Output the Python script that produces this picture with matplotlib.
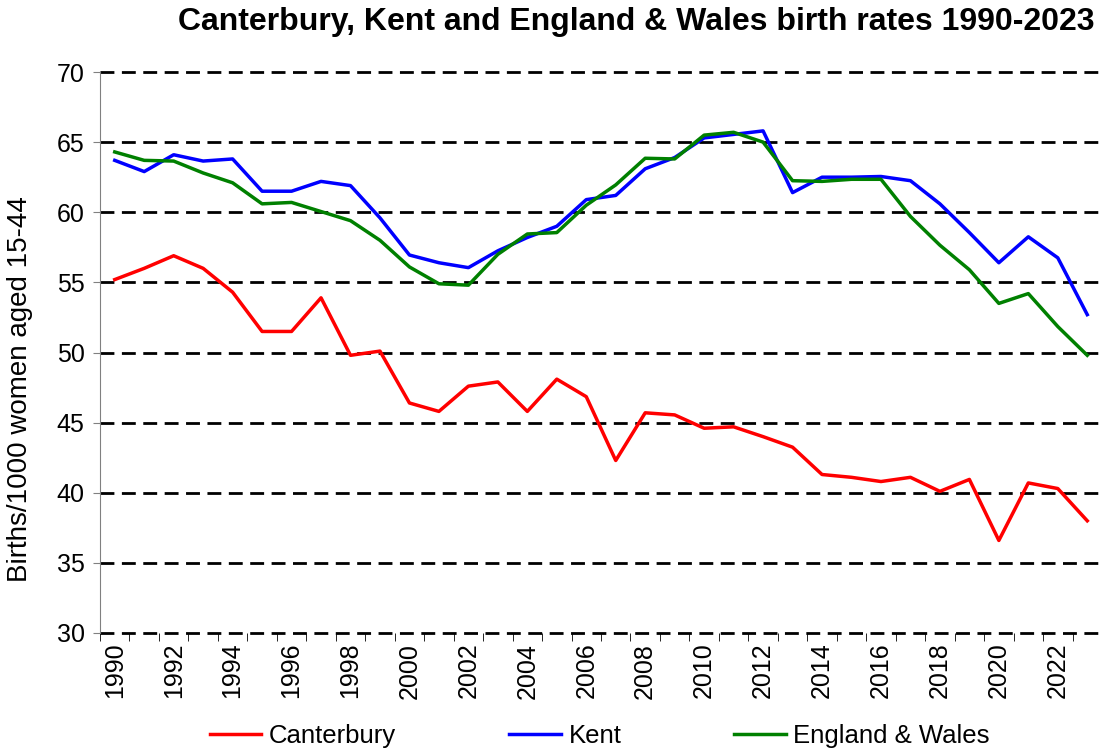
import matplotlib.pyplot as plt
import matplotlib
import numpy as np

matplotlib.rcParams['font.family'] = ['Liberation Sans', 'DejaVu Sans']

years = list(range(1990, 2024))
canterbury = [55.2, 56.0, 56.9, 56.0, 54.3, 51.5, 51.5, 53.9, 49.8, 50.1,
              46.4, 45.8, 47.6, 47.9, 45.8, 48.1, 46.85, 42.3, 45.7, 45.55,
              44.6, 44.7, 44.0, 43.25, 41.3, 41.1, 40.8, 41.1, 40.1, 40.95,
              36.6, 40.7, 40.3, 38.0]
kent = [63.7, 62.9, 64.1, 63.65, 63.8, 61.5, 61.5, 62.2, 61.9, 59.6,
        56.95, 56.4, 56.05, 57.25, 58.2, 59.0, 60.9, 61.2, 63.1, 63.9,
        65.3, 65.55, 65.8, 61.4, 62.5, 62.5, 62.55, 62.25, 60.6, 58.55,
        56.4, 58.25, 56.75, 52.7]
eng_wales = [64.3, 63.7, 63.65, 62.8, 62.1, 60.6, 60.7, 60.05, 59.4, 58.0,
             56.1, 54.9, 54.8, 57.0, 58.45, 58.55, 60.5, 61.95, 63.85, 63.8,
             65.5, 65.7, 65.0, 62.25, 62.2, 62.35, 62.35, 59.7, 57.65, 55.9,
             53.5, 54.2, 51.85, 49.8]

fig = plt.figure(figsize=(11.02, 7.52), dpi=100)
ax = fig.add_axes([100 / 1102, 1 - 633 / 752, 1 - 100 / 1102, (633 - 72) / 752])

x = np.arange(len(years))
ax.plot(x, canterbury, color="#ff0000", linewidth=2.5, label="Canterbury", zorder=3)
ax.plot(x, kent, color="#0000ff", linewidth=2.5, label="Kent", zorder=3)
ax.plot(x, eng_wales, color="#008000", linewidth=2.5, label="England & Wales", zorder=3)

ax.set_xlim(-0.5, len(years) - 0.5)
ax.set_ylim(30, 70)
ax.set_yticks(np.arange(30, 71, 5))
ax.yaxis.grid(True, color="black", linestyle=(0, (5, 2.7)), linewidth=2)
for gl in ax.get_ygridlines():
    gl.set_clip_on(False)
ax.set_axisbelow(True)

ax.set_xticks(x[::2])
ax.set_xticklabels([str(y) for y in years[::2]], rotation=90, fontsize=18)
ax.set_xticks(np.arange(-0.5, len(years), 1), minor=True)
ax.tick_params(axis="x", which="major", length=0, pad=7)
ax.tick_params(axis="x", which="minor", length=6, color="black", direction="out")
ax.tick_params(axis="y", labelsize=18, length=5, color="gray", pad=6)

for s in ["top", "right", "bottom"]:
    ax.spines[s].set_visible(False)
ax.spines["left"].set_color("gray")
ax.spines["left"].set_linestyle((0, (1, 1)))

ax.set_ylabel("Births/1000 women aged 15-44", fontsize=20, va="center")
ax.yaxis.set_label_coords((20 - 100) / 1002, (633 - 389) / 561)
fig.text(1094 / 1102, 1 - 22 / 752, "Canterbury, Kent and England & Wales birth rates 1990-2023",
         ha="right", va="center", fontsize=23, fontweight="bold")

fig.legend(loc="center", bbox_to_anchor=(600 / 1102, 1 - 736 / 752), ncol=3, frameon=False,
           fontsize=18.5, handlelength=2.0, columnspacing=4.4, handletextpad=0.3)

fig.savefig("out.png", dpi=100)
